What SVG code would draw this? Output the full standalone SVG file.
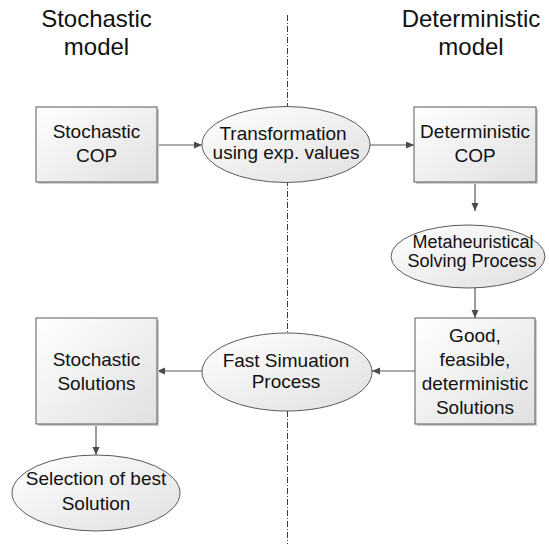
<svg xmlns="http://www.w3.org/2000/svg" width="549" height="544" viewBox="0 0 549 544">
<style>
text{font-family:"Liberation Sans",Arial,sans-serif;fill:#111;text-anchor:middle}
.t{font-size:24px}
.n{font-size:19px}
.m{font-size:18px}
.box{fill:url(#g);stroke:#5a5a5a;stroke-width:1}
.ell{fill:url(#g);stroke:#5a5a5a;stroke-width:1}
.sh{fill:#cdcdcd}
.c{stroke:#5a5a5a;stroke-width:1.2;fill:none;marker-end:url(#a)}
</style>
<defs>
<linearGradient id="g" x1="0" y1="0" x2="1" y2="1">
<stop offset="0" stop-color="#ffffff"/>
<stop offset="1" stop-color="#e0e0e0"/>
</linearGradient>
<marker id="a" markerWidth="9" markerHeight="8" refX="8" refY="3.5" orient="auto" markerUnits="userSpaceOnUse">
<path d="M0,0 L8,3.5 L0,7 z" fill="#4a4a4a"/>
</marker>
</defs>
<rect width="549" height="544" fill="#fff"/>
<line x1="287.5" y1="15" x2="287.5" y2="544" stroke="#3a3a3a" stroke-width="1" stroke-dasharray="6,2,1,2"/>
<g id="titles">
<text class="t" x="96.5" y="27">Stochastic</text>
<text class="t" x="96.5" y="55">model</text>
<text class="t" x="471" y="27">Deterministic</text>
<text class="t" x="471" y="55">model</text>
</g>
<g id="connectors">
<line class="c" x1="157" y1="145" x2="202" y2="145"/>
<line class="c" x1="370" y1="145" x2="414" y2="145"/>
<line class="c" x1="475" y1="182" x2="475" y2="211"/>
<line class="c" x1="475" y1="288" x2="475" y2="318"/>
<line class="c" x1="415" y1="371" x2="372" y2="371"/>
<line class="c" x1="202" y1="371" x2="157" y2="371"/>
<line class="c" x1="96" y1="424" x2="96" y2="455"/>
</g>
<g id="stochastic-cop">
<rect class="sh" x="38" y="109" width="121" height="75"/>
<rect class="box" x="36" y="107" width="121" height="75"/>
<text class="n" x="96.5" y="138">Stochastic</text>
<text class="n" x="96.5" y="162">COP</text>
</g>
<g id="transformation">
<ellipse class="ell" cx="286" cy="144.5" rx="84" ry="38"/>
<text class="n" x="283" y="140">Transformation</text>
<text class="n" x="286" y="159">using exp. values</text>
</g>
<g id="deterministic-cop">
<rect class="sh" x="416" y="109" width="122" height="75"/>
<rect class="box" x="414" y="107" width="122" height="75"/>
<text class="n" x="475" y="138">Deterministic</text>
<text class="n" x="475" y="162">COP</text>
</g>
<g id="metaheuristical">
<ellipse class="ell" cx="468" cy="256.5" rx="77" ry="31.5"/>
<text class="m" x="473" y="248">Metaheuristical</text>
<text class="m" x="472" y="267">Solving Process</text>
</g>
<g id="good-solutions">
<rect class="sh" x="417" y="320" width="120" height="106"/>
<rect class="box" x="415" y="318" width="120" height="106"/>
<text class="n" x="475" y="342">Good,</text>
<text class="n" x="475" y="366">feasible,</text>
<text class="n" x="475" y="390">deterministic</text>
<text class="n" x="475" y="414">Solutions</text>
</g>
<g id="fast-simulation">
<ellipse class="ell" cx="287" cy="372" rx="85" ry="39"/>
<text class="n" x="286" y="367">Fast Simuation</text>
<text class="n" x="286" y="388">Process</text>
</g>
<g id="stochastic-solutions">
<rect class="sh" x="38" y="320" width="121" height="106"/>
<rect class="box" x="36" y="318" width="121" height="106"/>
<text class="n" x="96.5" y="366">Stochastic</text>
<text class="n" x="96.5" y="390">Solutions</text>
</g>
<g id="selection">
<ellipse class="ell" cx="96" cy="493" rx="84" ry="38"/>
<text class="n" x="96" y="485">Selection of best</text>
<text class="n" x="96" y="510">Solution</text>
</g>
</svg>
